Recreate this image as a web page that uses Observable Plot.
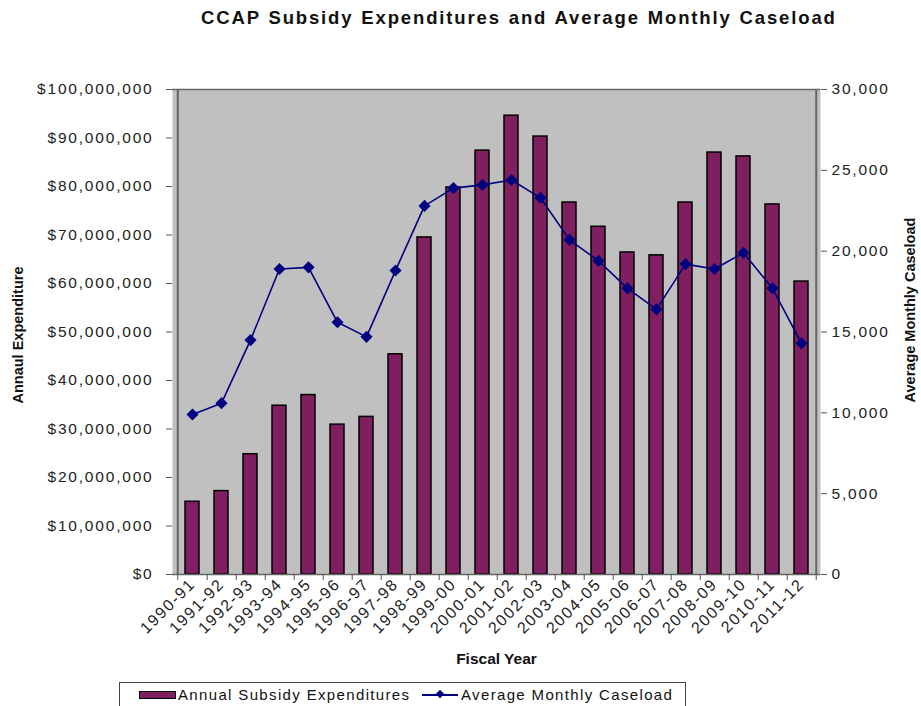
<!DOCTYPE html>
<html><head><meta charset="utf-8">
<script src="https://cdn.jsdelivr.net/npm/d3@7"></script>
<script src="https://cdn.jsdelivr.net/npm/@observablehq/plot@0.6"></script>
<style>
body{margin:0;background:#fff;font-family:"Liberation Sans",Arial,sans-serif;width:921px;height:706px;overflow:hidden;position:relative}
#title{height:40px;box-sizing:border-box;padding-top:7px;padding-left:201px;font-weight:bold;font-size:18.5px;letter-spacing:1.85px;word-spacing:1px;white-space:nowrap;color:#111}
#chart svg{display:block}
#legend{position:absolute;left:119px;top:682px;width:567px;height:40px;border:1px solid #444;box-sizing:border-box;font-size:15px;letter-spacing:1.35px;color:#111;white-space:nowrap}
#legend .item{position:absolute;top:3px;display:flex;align-items:center}
.barsw{display:inline-block;width:35px;height:6px;background:#7f1f5f;border:1px solid #000;margin-right:2px}
.linesw{display:inline-block;position:relative;width:36px;height:2px;background:#000080;margin-right:3px}
.linesw::after{content:"";position:absolute;left:15px;top:-3px;width:6px;height:6px;background:#000080;transform:rotate(45deg)}
</style>
</head><body>
<div id="title">CCAP Subsidy Expenditures and Average Monthly Caseload</div>
<div id="chart"></div>
<div id="legend">
  <div class="item" style="left:19px"><span class="barsw"></span>Annual Subsidy Expenditures</div>
  <div class="item" style="left:302px"><span class="linesw"></span>Average Monthly Caseload</div>
</div>
<script>
const years = ["1990-91","1991-92","1992-93","1993-94","1994-95","1995-96","1996-97","1997-98","1998-99","1999-00","2000-01","2001-02","2002-03","2003-04","2004-05","2005-06","2006-07","2007-08","2008-09","2009-10","2010-11","2011-12"];
const expenditures = [15.0,17.2,24.8,34.8,37.0,30.9,32.5,45.4,69.5,79.8,87.4,94.6,90.3,76.7,71.7,66.4,65.8,76.7,87.0,86.2,76.3,60.4].map(v => v * 1e6);
const caseload = [9900,10600,14500,18900,19000,15600,14700,18800,22800,23900,24100,24400,23300,20700,19400,17700,16400,19200,18900,19900,17700,14300];
const dollarTicks = [0,10e6,20e6,30e6,40e6,50e6,60e6,70e6,80e6,90e6,100e6];
const caseTicks = [0,5000,10000,15000,20000,25000,30000];

const k = 100e6 / 30000;
const data = years.map((y, i) => ({year: y, exp: expenditures[i], cases: caseload[i]}));
const W = 921, H = 640, mL = 172, mR = 101, mT = 49, mB = 106;
const step = (W - mL - mR) / years.length;
const tickLen = 6 * 100e6 / (H - mT - mB);

const chart = Plot.plot({
  width: W, height: H,
  marginLeft: mL, marginRight: mR, marginTop: mT, marginBottom: mB,
  style: {fontFamily: "'Liberation Sans', Arial, sans-serif", fontSize: "15px", color: "#222", background: "#fff", overflow: "visible"},
  x: {type: "band", domain: years, paddingInner: 0.52, paddingOuter: 0.26, label: null},
  y: {domain: [0, 100e6], label: null},
  marks: [
    Plot.frame({fill: "#c0c0c0", stroke: "none"}),
    Plot.barY(data, {x: "year", y: "exp", fill: "#7f1f5f", stroke: "#000", strokeWidth: 1.5}),
    Plot.line(data, {x: "year", y: d => d.cases * k, stroke: "#000080", strokeWidth: 1.6}),
    Plot.dot(data, {x: "year", y: d => d.cases * k, symbol: "diamond2", r: 4.5, fill: "#000080", stroke: "#000080"}),
    Plot.ruleY([0, 100e6], {stroke: "#666", strokeWidth: 1.5}),
    Plot.ruleX(years, {x: d => d, dx: step / 2, y1: 0, y2: -tickLen, stroke: "#555"}),
    Plot.ruleX([years[0]], {x: d => d, dx: -step / 2, y1: 0, y2: -tickLen, stroke: "#555"}),
    Plot.axisY({anchor: "left", ticks: dollarTicks, tickFormat: d => "$" + d3.format(",")(d), tickSize: 6, tickPadding: 13, stroke: "#555", fontSize: 15.5, label: null}),
    Plot.axisY({anchor: "right", ticks: caseTicks.map(v => v * k), tickFormat: d => d3.format(",")(Math.round(d / k)), tickSize: 6, tickPadding: 5, stroke: "#555", fontSize: 15.5, label: null}),
    Plot.ruleX([years[0]], {x: d => d, dx: -step / 2, y1: 0, y2: 100e6, stroke: "#666", strokeWidth: 2}),
    Plot.ruleX([years[years.length - 1]], {x: d => d, dx: step / 2, y1: 0, y2: 100e6, stroke: "#666", strokeWidth: 2}),
    Plot.axisX({tickSize: 0, tickRotate: -45, tickPadding: 7, fontSize: 16, label: null}),
    Plot.text(["Annaul Expenditure"], {frameAnchor: "left", textAnchor: "middle", dx: -154, dy: 3, rotate: -90, fontWeight: "bold", fontSize: 14.5, fill: "#111"}),
    Plot.text(["Average Monthly Caseload"], {frameAnchor: "right", textAnchor: "middle", dx: 90, dy: -22, rotate: -90, fontWeight: "bold", fontSize: 14.5, fill: "#111"}),
    Plot.text(["Fiscal Year"], {frameAnchor: "bottom", dy: 89, fontWeight: "bold", fontSize: 15.5, fill: "#111"})
  ]
});
chart.querySelectorAll('[aria-label="y-axis tick label"]').forEach(g => g.setAttribute("letter-spacing", "1.8px"));
chart.querySelectorAll('[aria-label="x-axis tick label"]').forEach(g => g.setAttribute("letter-spacing", "1.6px"));
document.getElementById("chart").appendChild(chart);
</script>
</body></html>
